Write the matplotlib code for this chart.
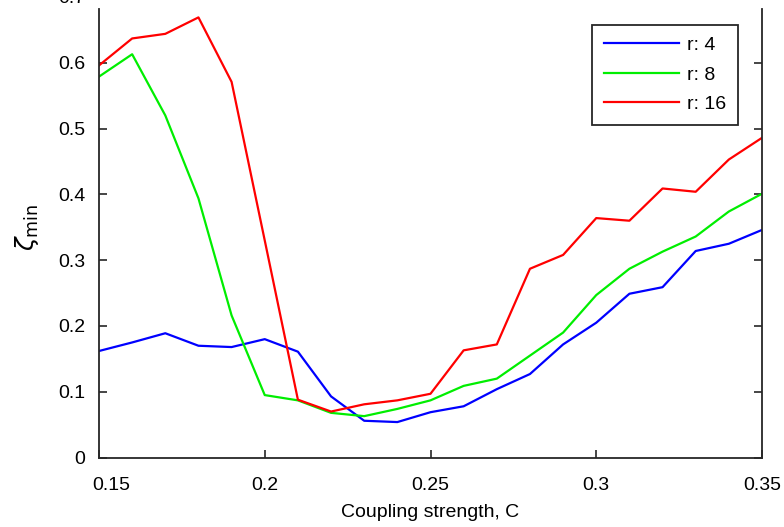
import matplotlib
matplotlib.use("Agg")
import matplotlib.pyplot as plt
import matplotlib.transforms as mtransforms
from matplotlib.ticker import FuncFormatter

plt.rcParams['font.family'] = ['Liberation Sans', 'DejaVu Sans']

coupling = [0.15, 0.16, 0.17, 0.18, 0.19, 0.20, 0.21, 0.22, 0.23, 0.24, 0.25,
            0.26, 0.27, 0.28, 0.29, 0.30, 0.31, 0.32, 0.33, 0.34, 0.35]
r4 = [0.162, 0.175, 0.189, 0.170, 0.168, 0.180, 0.161, 0.093, 0.056, 0.054, 0.069,
      0.078, 0.104, 0.127, 0.172, 0.205, 0.249, 0.259, 0.314, 0.325, 0.346]
r8 = [0.579, 0.613, 0.520, 0.394, 0.216, 0.095, 0.087, 0.068, 0.063, 0.074, 0.087,
      0.109, 0.120, 0.155, 0.190, 0.247, 0.287, 0.313, 0.336, 0.374, 0.401]
r16 = [0.596, 0.637, 0.644, 0.669, 0.571, 0.330, 0.088, 0.070, 0.081, 0.087, 0.097,
       0.163, 0.172, 0.287, 0.308, 0.364, 0.360, 0.409, 0.404, 0.453, 0.486]
labels = ['r: 4', 'r: 8', 'r: 16']
colors = ['#0000ff', '#00ee00', '#ff0000']

fig = plt.figure(figsize=(7.84, 5.27), dpi=100)
ax = fig.add_axes([99/784, 69.4/527, 663/784, 460.6/527])

for ys, lab, c in zip([r4, r8, r16], labels, colors):
    ax.plot(coupling, ys, color=c, lw=1.6, label=lab)

ax.set_xlim(0.15, 0.35)
ax.set_ylim(0, 0.7)
ax.set_xticks([0.15, 0.2, 0.25, 0.3, 0.35])
ax.set_yticks([0, 0.1, 0.2, 0.3, 0.4, 0.5, 0.6, 0.7])
fmt = FuncFormatter(lambda v, p: '%g' % round(v, 4))
ax.xaxis.set_major_formatter(fmt)
ax.yaxis.set_major_formatter(fmt)
ax.tick_params(direction='in', length=6, width=1.2, labelsize=14, color='#262626',
               right=True)
ax.tick_params(axis='x', pad=14)
ax.tick_params(axis='y', pad=10)
ax.spines['top'].set_visible(False)
for s in ['left', 'right', 'bottom']:
    ax.spines[s].set_linewidth(1.3)
    ax.spines[s].set_color('#262626')
ax.spines['left'].set_bounds(0, 0.682)
ax.spines['right'].set_bounds(0, 0.682)

ax.set_xlabel('Coupling strength, C', fontsize=14, labelpad=7)
ax.set_ylabel(r'$\zeta_{\mathrm{min}}$', fontsize=18, labelpad=12)

# first x tick label sits shifted right in the reference
fig.canvas.draw()
first = ax.get_xticklabels()[0]
first.set_transform(first.get_transform() +
                    mtransforms.ScaledTranslation(12/100, 0, fig.dpi_scale_trans))

leg = ax.legend(loc='upper right', bbox_to_anchor=(738/784, 1 - 25/527),
                bbox_transform=fig.transFigure, borderaxespad=0, fontsize=14,
                handlelength=3.9, labelspacing=0.6, fancybox=False,
                edgecolor='#262626', framealpha=1, borderpad=0.6, handletextpad=0.4)
leg.get_frame().set_linewidth(1.3)

fig.savefig('out.png', dpi=100)
